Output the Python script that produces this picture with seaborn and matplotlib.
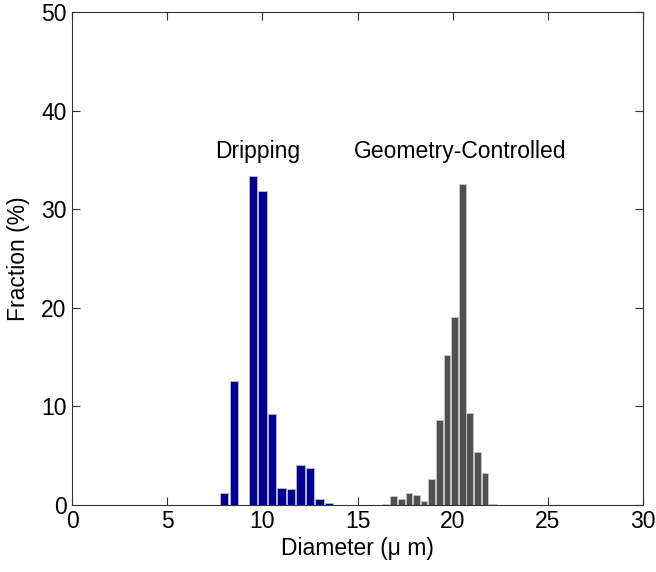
import numpy as np
import pandas as pd
import seaborn as sns
import matplotlib.pyplot as plt

# Droplet size distributions
drip_diam = [8.0, 8.5, 9.0, 9.5, 10.0, 10.5, 11.0, 11.5, 12.0, 12.5, 13.0, 13.5]
drip_frac = [1.2, 12.5, 0.0, 33.4, 31.8, 9.2, 1.7, 1.55, 4.0, 3.7, 0.56, 0.12]

geo_diam = [16.5, 16.9, 17.3, 17.7, 18.1, 18.5, 18.9, 19.3, 19.7, 20.1, 20.5, 20.9, 21.3, 21.7, 22.1]
geo_frac = [0.05, 0.83, 0.56, 1.17, 0.93, 0.32, 2.6, 8.55, 15.2, 19.0, 32.5, 9.3, 5.3, 3.2, 0.1]

drip_df = pd.DataFrame({'diameter': drip_diam, 'fraction': drip_frac})
geo_df = pd.DataFrame({'diameter': geo_diam, 'fraction': geo_frac})

sns.set_style("ticks")
plt.rcParams['font.family'] = ['Liberation Sans', 'DejaVu Sans']
plt.rcParams['text.color'] = 'black'
plt.rcParams['axes.labelcolor'] = 'black'

fig, ax = plt.subplots(figsize=(6.56, 5.72), dpi=100)
fig.subplots_adjust(left=0.11, right=0.98, top=0.979, bottom=0.118)

sns.barplot(data=drip_df, x='diameter', y='fraction', native_scale=True,
            width=0.87, color='#00008c', edgecolor='#b8b8e0', linewidth=0.6,
            saturation=1, errorbar=None, ax=ax)
sns.barplot(data=geo_df, x='diameter', y='fraction', native_scale=True,
            width=0.88, color='#505050', edgecolor='#c8c8c8', linewidth=0.6,
            saturation=1, errorbar=None, ax=ax)

ax.set_xlim(0, 30)
ax.set_ylim(0, 50)
ax.set_xticks([0, 5, 10, 15, 20, 25, 30])
ax.set_xticklabels(['0', '5', '10', '15', '20', '25', '30'])
ax.set_yticks([0, 10, 20, 30, 40, 50])
ax.set_yticklabels(['0', '10', '20', '30', '40', '50'])

for s in ax.spines.values():
    s.set_visible(True)
    s.set_color('#333333')
    s.set_linewidth(0.8)
ax.tick_params(direction='in', length=6, width=0.8, top=True, right=True,
               labelsize=16.5, colors='#333333', labelcolor='black', pad=4)

ax.set_xlabel('Diameter (\u03bc m)', fontsize=16.5, labelpad=3)
ax.set_ylabel('Fraction (%)', fontsize=16.5, labelpad=8)

ax.text(7.5, 35.8, 'Dripping', fontsize=16.5, va='center', ha='left')
ax.text(14.8, 35.8, 'Geometry-Controlled', fontsize=16.5, va='center', ha='left')

plt.savefig('out.png', dpi=100)
